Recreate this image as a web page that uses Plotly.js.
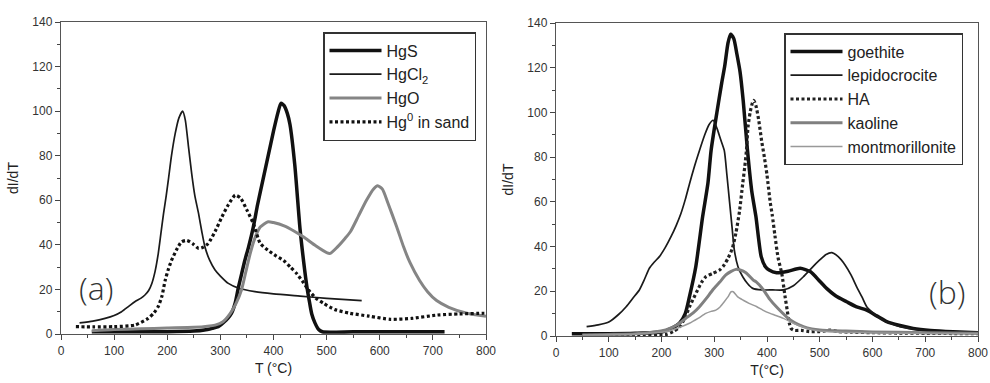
<!DOCTYPE html>
<html><head><meta charset="utf-8">
<script src="https://cdn.plot.ly/plotly-3.0.1.min.js"></script>
<style>html,body{margin:0;padding:0;background:#fff}#chart{width:990px;height:383px}</style>
</head><body><div id="chart"></div>
<script>
// ---- Panel (a) ----
const hgsT = [58,100,150,200,250,270,285,296,305,314,321,328,334,340,346,353,362,370,380,390,400,408,414,420,426,431,440,450,457,463,468,472,478,485,492,550,650,722];
const hgsY = [1,1,1,1,1.3,1.8,2.6,3.3,5,7,9.3,14,21,27,33,39,48,58,69,80,91,99,103.5,102.5,99,94,76,47,32,21,14,9,5,2,1,1,1,1];
const hgcl2T = [35,60,83,100,114,128,139,150,158,165,171,177,183,188,193,198,202,208,215,222,229,234,240,246,252,259,265,271,280,290,300,315,335,365,400,450,500,566];
const hgcl2Y = [5,5.8,7,8.3,10,12.5,14.5,16,17.5,19.5,22.7,28,36,45,54,62,69,80,90,97,100,96,84,72,62,54,46,39,33,28.7,26,22.7,20.5,19,18,17,16,15];
const hgoT = [58,100,150,200,250,290,305,318,330,340,348,356,365,375,390,400,420,440,456,480,500,507,520,535,545,560,575,588,596,605,615,632,645,657,675,690,707,730,764,800];
const hgoY = [1.5,2,2.3,2.7,3,4,5.5,9,14,20,28,36,43,48,50.4,50,48.5,46,43.6,39.5,36.5,36.2,39,43,46,53,60,65,66.5,65,59,48,39,32,24,19,15,12,9.3,8];
const hg0T = [28,60,100,139,164,175,183,190,196,202,208,218,227,237,248,259,268,277,290,303,315,328,338,350,362,375,390,405,419,432,444,455,466,480,494,515,544,580,620,660,708,750,795,800];
const hg0Y = [3.3,3.2,3.3,4,7,9.5,12.3,17,24,29,33,38,41.4,42,40.5,38.4,39,40.6,46,52.6,58,62.3,61,55.6,49.6,40.7,37.5,35,33,30,27,23.5,19.7,16,13.8,11,9.3,8,6.6,7,8.5,9,9.3,9.3];

// ---- Panel (b) ----
const goeT = [30,50,100,150,202,220,234,245,253,265,278,288,294,305,314,320,326,331,337,343,349,355,363,371,379,389,397,404,418,440,463,482,500,513,530,551,570,589,608,627,650,677,710,753,800];
const goeY = [1,1,1,1.2,1.9,3.5,5.7,10,17.6,31,53.4,68.3,83,100,113,121,131,135,133,126,118,105,83,65,53.4,35.5,31,29.5,28.3,29,30.3,28.8,24.5,21.3,18,15.3,13,11.6,9,6.4,4.8,3.4,2.5,1.9,1.5];
const lepT = [58,80,101,118,133,146,158,168,177,186,196,207,218,228,237,245,253,262,272,282,290,298,305,312,319,324,329,334,338,345,354,363,373,390,411,431,450,469,485,500,512,523,535,548,560,570,580,589,600,614,632,652,675,703,750,791,800];
const lepY = [4.2,5,6.4,9.5,13.1,17,20.6,25.5,30.3,33,35.5,39.5,44.4,49.5,54.9,61,68,75.5,83,90,94.5,96.5,93,88,83,72,60,48,38.5,31,26.5,23.5,21.3,20.6,20.6,20.6,22.5,26.5,30.5,34,36.5,37.3,35.5,31.8,27,22,17.5,13.1,10.5,7.9,5.8,4.2,3.2,2.4,1.8,1.5,1.5];
const haT = [50,100,150,208,222,234,244,253,261,268.5,276,284,297,310,318,326,334,341,348,354,358,361,364,368,372,375,379,384,390,395,400,406,410,415,421,428,434,438,442,446,452,465,480,500,510,520,535,560,600,650,700,750,800];
const haY = [0.5,0.5,0.5,0.6,2,4,8,13,17,20.6,24,26.5,28,29.5,31.5,34.7,39,46,56,68.3,76,83,93.5,100,104,105.4,103,97,87,80,72,60,54,45,35,28,18,12,6,3.3,2.5,2.5,2,2,2.3,2.6,2,1.7,1.5,1.3,1.2,1.1,1];
const kaoT = [50,100,150,208,230,246,260,272,285,297,310,322,332,341,349,360,374,379,392,405,420,437,452,469,485,500,550,600,700,800];
const kaoY = [0.5,0.7,1,2.7,5,7.9,10.3,13.1,16.8,20.6,24,27.3,28.9,29.8,29.5,28.3,25,24.3,21,16.5,12.5,8.6,6,4.2,3.2,2.7,2.2,1.8,1.5,1.2];
const monT = [50,100,150,208,230,253,270,284,294,303,311,319,326,332,336,344,355,366,380,392,406,414,431,450,466,482,500,550,650,800];
const monY = [0.5,0.6,0.9,1.9,3.5,5.7,8,10.1,11,11.6,13,15.3,17.5,19.8,19.8,17.6,16,14.6,13.2,11.6,10.1,9.4,7.9,5.7,4.2,3,2.2,1.6,1.2,1];

const FONT = 'Liberation Sans, Arial, sans-serif';

function tr(x, y, name, color, width, dash, xa, ya, leg) {
  return {x: x, y: y, name: name, type: 'scatter', mode: 'lines',
    line: {color: color, width: width, dash: dash || 'solid', shape: 'spline', smoothing: 0.6},
    xaxis: xa, yaxis: ya, legend: leg, hoverinfo: 'skip'};
}

const data = [
  tr(hgsT, hgsY, 'HgS', '#111', 3.5, null, 'x', 'y', 'legend'),
  tr(hgcl2T, hgcl2Y, 'HgCl<sub>2</sub>', '#1a1a1a', 1.7, null, 'x', 'y', 'legend'),
  tr(hgoT, hgoY, 'HgO', '#858585', 3, null, 'x', 'y', 'legend'),
  tr(hg0T, hg0Y, 'Hg<sup>0</sup> in sand', '#111', 3.2, '3px,2.5px', 'x', 'y', 'legend'),
  tr(goeT, goeY, 'goethite', '#111', 3.5, null, 'x2', 'y2', 'legend2'),
  tr(lepT, lepY, 'lepidocrocite', '#1a1a1a', 1.7, null, 'x2', 'y2', 'legend2'),
  tr(haT, haY, 'HA', '#222', 3.2, '3px,2.5px', 'x2', 'y2', 'legend2'),
  tr(kaoT, kaoY, 'kaoline', '#808080', 3, null, 'x2', 'y2', 'legend2'),
  tr(monT, monY, 'montmorillonite', '#999', 1.5, null, 'x2', 'y2', 'legend2')
];

function xax(dom, title, anchor) {
  return {domain: dom, anchor: anchor, range: [0, 800], tick0: 0, dtick: 100,
    ticks: 'outside', ticklen: 5, tickwidth: 1, tickcolor: '#444',
    showline: true, linecolor: '#555', linewidth: 1.2, mirror: true,
    showgrid: false, zeroline: false,
    tickfont: {family: FONT, size: 12, color: '#333'},
    minor: {dtick: 50, ticks: 'outside', ticklen: 3, tickcolor: '#444', showgrid: false},
    title: {text: title, font: {family: FONT, size: 14, color: '#222'}, standoff: 6}};
}
function yax(dom, anchor) {
  return {domain: dom, anchor: anchor, range: [0, 140], tick0: 0, dtick: 20,
    ticks: 'outside', ticklen: 5, tickwidth: 1, tickcolor: '#444',
    showline: true, linecolor: '#555', linewidth: 1.2, mirror: true,
    showgrid: false, zeroline: false,
    tickfont: {family: FONT, size: 12, color: '#333'},
    minor: {dtick: 10, ticks: 'outside', ticklen: 3, tickcolor: '#444', showgrid: false},
    title: {text: 'dI/dT', font: {family: FONT, size: 14, color: '#222'}, standoff: 10}};
}

const legStyle = {font: {family: FONT, size: 16, color: '#222'}, bgcolor: 'rgba(255,255,255,1)',
  bordercolor: '#333', borderwidth: 1.5, xanchor: 'left', yanchor: 'top', itemwidth: 52,
  tracegroupgap: 0, traceorder: 'normal'};

const layout = {
  width: 990, height: 383, margin: {l: 0, r: 0, t: 0, b: 0},
  paper_bgcolor: '#fff', plot_bgcolor: '#fff', showlegend: true,
  xaxis: xax([61/990, 486/990], 'T (°C)', 'y'),
  yaxis: yax([1-334/383, 1-22/383], 'x'),
  xaxis2: xax([556/990, 978/990], 'T(°C)', 'y2'),
  yaxis2: yax([1-336/383, 1-23/383], 'x2'),
  legend: Object.assign({}, legStyle, {x: 323/990, y: 1-32/383}),
  legend2: Object.assign({}, legStyle, {x: 784/990, y: 1-33/383}),
  annotations: [
    {text: '(a)', xref: 'x', yref: 'y', x: 66, y: 21, showarrow: false,
     font: {family: 'Open Sans, sans-serif', size: 32, color: '#333', weight: 300}},
    {text: '(b)', xref: 'x2', yref: 'y2', x: 741, y: 20, showarrow: false,
     font: {family: 'Open Sans, sans-serif', size: 32, color: '#333', weight: 300}}
  ]
};

Plotly.newPlot('chart', data, layout, {staticPlot: true, displayModeBar: false});
</script></body></html>
